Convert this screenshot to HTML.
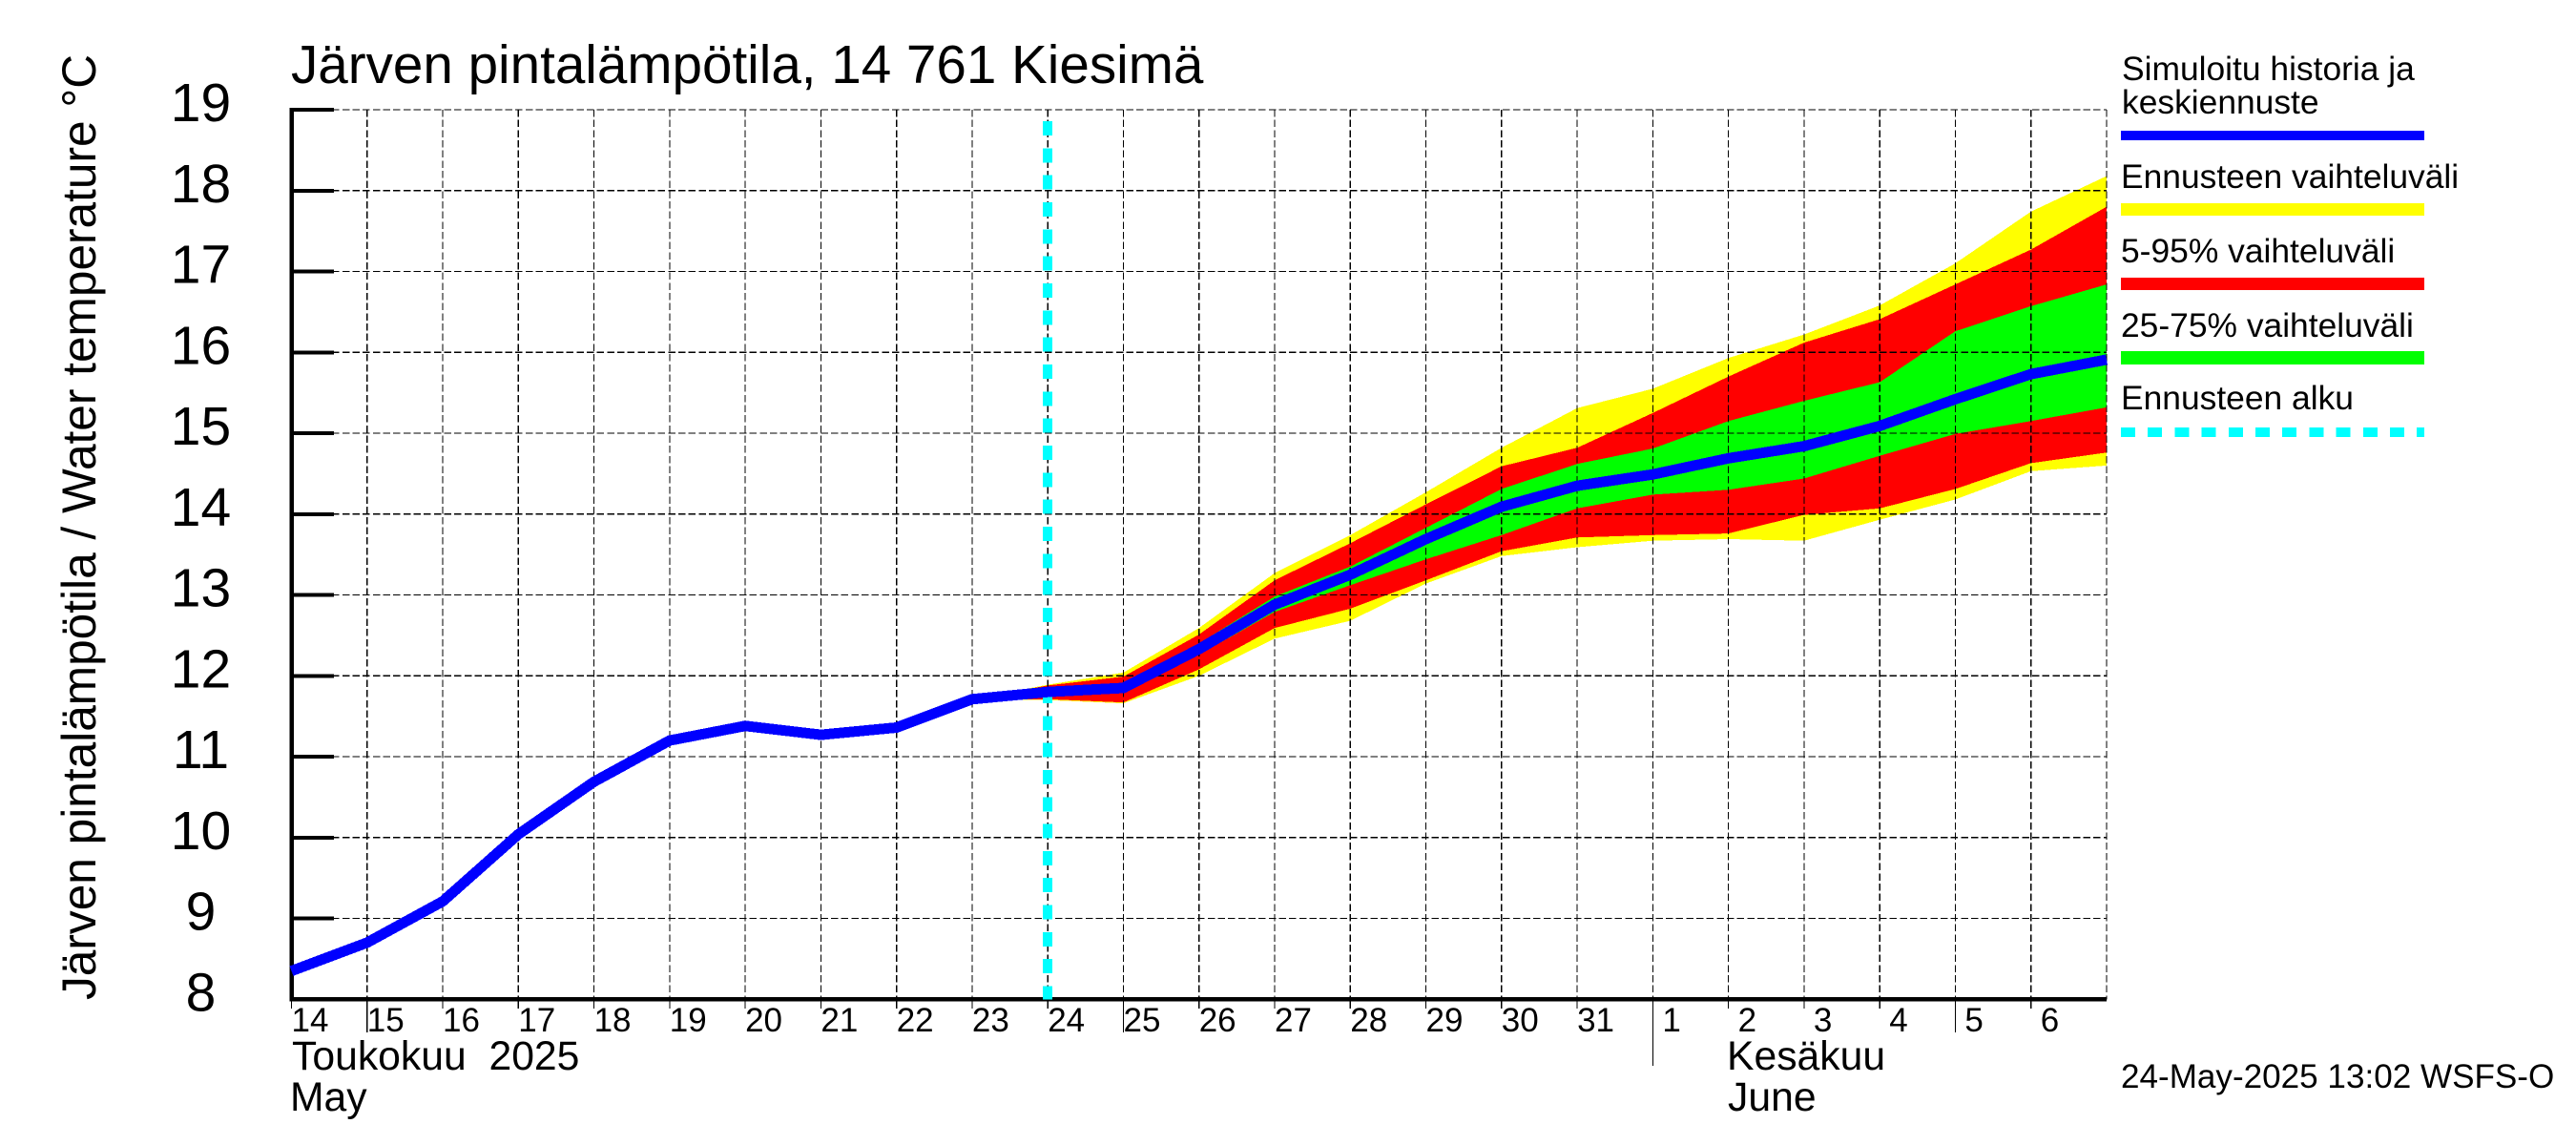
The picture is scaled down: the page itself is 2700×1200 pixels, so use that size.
<!DOCTYPE html>
<html lang="fi">
<head>
<meta charset="utf-8">
<title>Järven pintalämpötila, 14 761 Kiesimä</title>
<style>
html,body{margin:0;padding:0;background:#fff;}
svg{display:block;font-family:"Liberation Sans",sans-serif;fill:#000;}
</style>
</head>
<body>
<svg id="chart" xmlns="http://www.w3.org/2000/svg" width="2700" height="1200" viewBox="0 0 2700 1200">
  <rect x="0" y="0" width="2700" height="1200" fill="#ffffff"/>
  <g id="bands"></g>
  <g id="grid"></g>
  <g id="axes"></g>
  <line id="startLine" stroke="#00ffff" stroke-width="10" stroke-dasharray="15 13.33" shape-rendering="crispEdges"/>
  <polyline id="history" fill="none" stroke="#0000ff" stroke-width="11" stroke-linejoin="round" shape-rendering="crispEdges"/>
  <g id="labels"></g>

  <text x="305" y="87" font-size="56.6">Järven pintalämpötila, 14 761 Kiesimä</text>
  <text transform="translate(100 1048) rotate(-90)" font-size="49.6">Järven pintalämpötila / Water temperature °C</text>

  <text x="306" y="1121" font-size="42.7" xml:space="preserve">Toukokuu  2025</text>
  <text x="304" y="1164" font-size="42.7">May</text>
  <text x="1810" y="1121" font-size="42.7">Kesäkuu</text>
  <text x="1811" y="1164" font-size="42.7">June</text>

  <g>
    <text x="2224" y="84" font-size="35.4">Simuloitu historia ja</text>
    <text x="2224" y="119" font-size="35.4">keskiennuste</text>
    <rect x="2223" y="137" width="318" height="10" fill="#0000ff"/>
    <text x="2223" y="197" font-size="35.4">Ennusteen vaihteluväli</text>
    <rect x="2223" y="213" width="318" height="13" fill="#ffff00"/>
    <text x="2223" y="275" font-size="35.4">5-95% vaihteluväli</text>
    <rect x="2223" y="291" width="318" height="13" fill="#ff0000"/>
    <text x="2223" y="353" font-size="35.4">25-75% vaihteluväli</text>
    <rect x="2223" y="368" width="318" height="14" fill="#00ff00"/>
    <text x="2223" y="429" font-size="35.4">Ennusteen alku</text>
    <line x1="2223" y1="453" x2="2541" y2="453" stroke="#00ffff" stroke-width="10" stroke-dasharray="15 13.2" shape-rendering="crispEdges"/>
  </g>

  <text x="2223" y="1140" font-size="35.1">24-May-2025 13:02 WSFS-O</text>
</svg>

<script>
// ---- chart data ----
const dayLabels = ["14","15","16","17","18","19","20","21","22","23","24","25","26","27","28","29","30","31","1","2","3","4","5","6"];
const yTicks = [8,9,10,11,12,13,14,15,16,17,18,19];
const firstDay = 14;
const lastDay = 38;
const forecastStartDay = 24;
const bandFirstDay = 23;
const longTickDays = [15,25,36];
const monthTickDays = [32];

const historyValues = [8.35,8.70,9.21,10.04,10.69,11.20,11.38,11.27,11.36,11.71,11.80,11.85,12.33,12.88,13.25,13.69,14.09,14.35,14.49,14.69,14.84,15.09,15.42,15.73,15.91];

const yellowHigh = [11.71,11.89,12.04,12.59,13.27,13.74,14.27,14.82,15.31,15.55,15.93,16.22,16.58,17.10,17.74,18.18];
const redHigh    = [11.71,11.88,11.99,12.51,13.18,13.64,14.12,14.59,14.82,15.25,15.70,16.12,16.41,16.84,17.27,17.80];
const greenHigh  = [11.71,11.85,11.91,12.40,12.98,13.35,13.83,14.31,14.62,14.81,15.15,15.40,15.63,16.26,16.57,16.84];
const greenLow   = [11.71,11.76,11.79,12.26,12.79,13.12,13.44,13.74,14.07,14.24,14.30,14.44,14.72,14.99,15.15,15.32];
const redLow     = [11.71,11.71,11.67,12.08,12.59,12.83,13.18,13.54,13.71,13.74,13.76,13.99,14.07,14.31,14.63,14.76];
const yellowLow  = [11.71,11.70,11.66,12.00,12.46,12.68,13.14,13.48,13.59,13.67,13.69,13.67,13.93,14.18,14.53,14.60];

// ---- axis functions ----
const X0 = 305.5, X_STEP = 79.27;
const Y_TOP = 115, Y_STEP = 84.75, Y_MAX = 19;
function xScale(day){ return X0 + (day - firstDay) * X_STEP; }
function yScale(v){ return Y_TOP + (Y_MAX - v) * Y_STEP; }

const NS = "http://www.w3.org/2000/svg";
function mk(tag, parentId, attrs){
  const e = document.createElementNS(NS, tag);
  for (const k in attrs) e.setAttribute(k, attrs[k]);
  document.getElementById(parentId).appendChild(e);
  return e;
}

// ---- bands ----
function bandPoints(high, low){
  const top = high.map((v,i) => xScale(bandFirstDay+i).toFixed(1)+","+yScale(v).toFixed(1));
  const bot = low.map((v,i) => xScale(bandFirstDay+i).toFixed(1)+","+yScale(v).toFixed(1)).reverse();
  return top.concat(bot).join(" ");
}
const yellowBand = mk("polygon","bands",{points:bandPoints(yellowHigh,yellowLow),fill:"#ffff00","shape-rendering":"crispEdges"});


const redBand = mk("polygon","bands",{points:bandPoints(redHigh,redLow),fill:"#ff0000","shape-rendering":"crispEdges"});


const greenBand = mk("polygon","bands",{points:bandPoints(greenHigh,greenLow),fill:"#00ff00","shape-rendering":"crispEdges"});



// ---- grid ----
const yBottom = yScale(8);
for (let d = firstDay; d <= lastDay; d++){
  const gl = mk("line","grid",{x1:xScale(d),x2:xScale(d),y1:Y_TOP,y2:yBottom,stroke:"#000","stroke-width":1.2,"stroke-dasharray":"7.5 3.17","shape-rendering":"crispEdges"});
  
  
}
yTicks.forEach(v => {
  const gl = mk("line","grid",{x1:xScale(firstDay),x2:xScale(lastDay),y1:yScale(v),y2:yScale(v),stroke:"#000","stroke-width":1.2,"stroke-dasharray":"7.5 3.17","shape-rendering":"crispEdges"});
  
  
});

// ---- axes ----
const yAxisLine = mk("line","axes",{x1:xScale(firstDay),x2:xScale(firstDay),y1:Y_TOP-2,y2:yBottom+2,stroke:"#000","stroke-width":4.5,"shape-rendering":"crispEdges"});


const xAxisLine = mk("line","axes",{x1:xScale(firstDay)-2,x2:xScale(lastDay),y1:yBottom,y2:yBottom,stroke:"#000","stroke-width":4.3,"shape-rendering":"crispEdges"});



yTicks.forEach(v => {
  if (v > 8){
    const t = mk("line","axes",{x1:xScale(firstDay),x2:350,y1:yScale(v),y2:yScale(v),stroke:"#000","stroke-width":4,"shape-rendering":"crispEdges"});
    
    
  }
  const lbl = mk("text","labels",{x:210.5,y:(yScale(v)+12).toFixed(1),"font-size":57,"text-anchor":"middle"});
  
  
  lbl.textContent = String(v);
});

dayLabels.forEach((txt,i) => {
  const d = firstDay + i;
  let end = 1057;
  if (longTickDays.includes(d)) end = 1082;
  if (monthTickDays.includes(d)) end = 1117;
  const t = mk("line","axes",{x1:xScale(d),x2:xScale(d),y1:yBottom,y2:end,stroke:"#000","stroke-width":1.2,"shape-rendering":"crispEdges"});
  
  
  const off = txt.length === 1 ? 10 : 0;
  const lbl = mk("text","labels",{x:(xScale(d)+off).toFixed(1),y:1081,"font-size":35});
  
  
  lbl.textContent = txt;
});

// ---- forecast start line ----
const startLine = document.getElementById("startLine");
const sx = xScale(forecastStartDay);
startLine.setAttribute("x1", sx);
startLine.setAttribute("x2", sx);
startLine.setAttribute("y1", 127);
startLine.setAttribute("y2", yBottom);

// ---- history / median line ----
document.getElementById("history").setAttribute("points",
  historyValues.map((v,i) => xScale(firstDay+i).toFixed(1)+","+yScale(v).toFixed(1)).join(" "));
</script>
</body>
</html>
